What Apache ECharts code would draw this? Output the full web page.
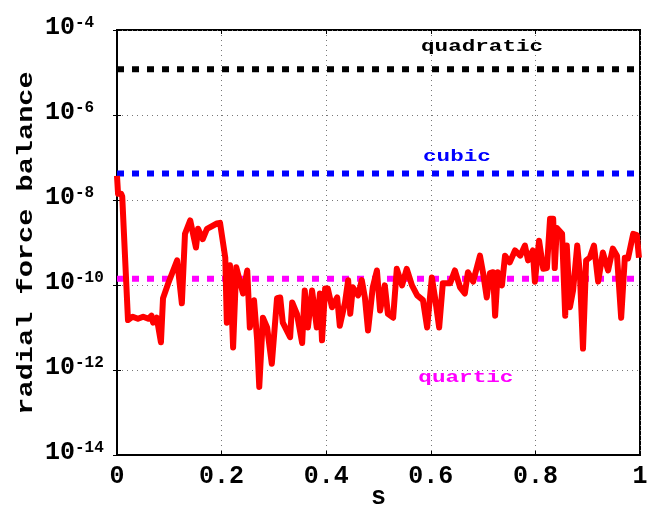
<!DOCTYPE html>
<html>
<head>
<meta charset="utf-8">
<script src="https://cdn.jsdelivr.net/npm/echarts@6/dist/echarts.min.js"></script>
<style>
  html, body { margin: 0; padding: 0; background: #fff; }
  #chart01 { width: 659px; height: 506px; }
</style>
</head>
<body>
<div id="chart01"></div>
<script>
// s along the profile
var sValues = [0.000, 0.002, 0.008, 0.010, 0.021, 0.030, 0.040, 0.050, 0.060, 0.066, 0.069, 0.076, 0.084, 0.088, 0.098,
  0.115, 0.117, 0.124, 0.130, 0.140, 0.151, 0.155, 0.164, 0.172, 0.191, 0.197, 0.207, 0.210, 0.216, 0.222,
  0.228, 0.241, 0.249, 0.254, 0.262, 0.268, 0.272, 0.279, 0.287, 0.296, 0.306, 0.312, 0.317, 0.331, 0.335,
  0.344, 0.354, 0.359, 0.365, 0.373, 0.382, 0.388, 0.392, 0.398, 0.403, 0.411, 0.421, 0.426, 0.436, 0.442,
  0.446, 0.451, 0.461, 0.468, 0.474, 0.480, 0.489, 0.497, 0.503, 0.512, 0.518, 0.528, 0.535, 0.545, 0.554,
  0.564, 0.574, 0.585, 0.593, 0.602, 0.608, 0.616, 0.623, 0.637, 0.646, 0.656, 0.665, 0.671, 0.681, 0.694,
  0.700, 0.707, 0.713, 0.719, 0.723, 0.728, 0.736, 0.742, 0.751, 0.761, 0.771, 0.780, 0.786, 0.795, 0.799,
  0.807, 0.815, 0.822, 0.828, 0.834, 0.837, 0.841, 0.851, 0.857, 0.860, 0.866, 0.872, 0.880, 0.885, 0.891,
  0.897, 0.904, 0.912, 0.920, 0.929, 0.939, 0.948, 0.956, 0.964, 0.971, 0.977, 0.987, 0.994, 0.998];

// radial force balance residual
var balanceValues = [3.7e-8, 1.4e-8, 1.4e-8, 1.2e-8, 1.5e-11, 1.8e-11, 1.6e-11, 1.8e-11, 1.6e-11, 1.9e-11, 1.3e-11, 1.7e-11, 4.5e-12, 4.9e-11, 1.1e-10,
  3.8e-10, 3.8e-10, 3.7e-11, 1.6e-9, 3.3e-9, 7.6e-10, 2.1e-9, 1.2e-9, 2.1e-9, 2.8e-9, 2.9e-9, 4.4e-10, 1.3e-11, 2.9e-10, 3.4e-12,
  2.6e-10, 6.3e-11, 2.2e-10, 1.0e-11, 4.4e-11, 5.0e-12, 4.0e-13, 1.7e-11, 1.0e-11, 1.4e-12, 4.9e-11, 5.1e-11, 1.3e-11, 5.9e-12, 3.9e-11,
  2.1e-11, 4.3e-12, 7.4e-11, 1.0e-11, 7.4e-11, 1.0e-11, 6.3e-11, 5.0e-12, 8.3e-11, 8.3e-11, 3.0e-11, 5.1e-11, 1.1e-11, 3.9e-11, 1.3e-10,
  2.1e-11, 8.8e-11, 5.7e-11, 1.3e-10, 5.1e-11, 8.5e-12, 8.8e-11, 2.2e-10, 2.5e-11, 9.8e-11, 2.1e-11, 1.7e-11, 2.4e-10, 9.8e-11, 2.4e-10,
  9.8e-11, 5.7e-11, 4.4e-11, 1.0e-11, 1.5e-10, 5.1e-11, 1.0e-11, 1.1e-10, 1.1e-10, 2.2e-10, 8.8e-11, 6.3e-11, 2.0e-10, 1.2e-10, 4.9e-10,
  1.9e-10, 5.1e-11, 1.9e-10, 2.0e-10, 1.9e-11, 2.0e-10, 9.8e-11, 4.9e-10, 3.4e-10, 6.5e-10, 4.9e-10, 8.5e-10, 3.8e-10, 6.5e-10, 1.2e-10,
  1.1e-9, 2.4e-10, 2.5e-10, 3.6e-9, 3.6e-9, 2.5e-10, 2.2e-9, 1.6e-9, 1.9e-11, 8.5e-10, 3.0e-11, 7.4e-11, 8.5e-10, 1.9e-10, 3.2e-12,
  3.8e-10, 4.4e-10, 8.5e-10, 1.2e-10, 5.8e-10, 2.2e-10, 7.2e-10, 4.9e-10, 1.7e-11, 4.4e-10, 4.2e-10, 1.6e-9, 1.5e-9, 4.4e-10];

// fit orders and their constant levels
var fitNames = ["quadratic", "cubic", "quartic"];
var fitLevels = [1.2e-5, 4.2e-8, 1.4e-10];
var fitColors = ["#000000", "#0000ff", "#ff00ff"];
// where the order names sit, in data units (s, value)
var labelAt = [[0.698, 4.0e-5], [0.650, 1.05e-7], [0.667, 6.7e-13]];

var monoFont = "Liberation Mono";

var lineData = sValues.map(function (s, i) { return [s, balanceValues[i]]; });

var series = [];
fitNames.forEach(function (name, i) {
    series.push({
        name: name,
        type: "line",
        symbol: "none",
        silent: true,
        data: [[0, fitLevels[i]], [1, fitLevels[i]]],
        lineStyle: { color: fitColors[i], width: 6, type: [7, 8], cap: "butt" },
        z: 2
    });
});
series.push({
    name: "balance",
    type: "line",
    symbol: "none",
    data: lineData,
    lineStyle: { color: "#ff0000", width: 6, join: "round" },
    z: 3
});

var myChart01 = echarts.init(document.getElementById("chart01"));
var option = {
    animation: false,
    backgroundColor: "#ffffff",
    grid: {
        left: 117, right: 19, top: 30, bottom: 51,
        containLabel: false,
        outerBoundsMode: "none",
        show: true, borderColor: "#000", borderWidth: 2, backgroundColor: "transparent"
    },
    xAxis: [{
        type: "value",
        min: 0, max: 1, interval: 0.2,
        name: "s",
        nameLocation: "middle",
        nameGap: 30,
        nameMoveOverlap: false,
        nameTextStyle: { fontFamily: monoFont, fontWeight: "bold", fontSize: 25, color: "#000" },
        axisLine: { show: true, onZero: false, lineStyle: { color: "#000", width: 2 } },
        axisTick: { show: true, inside: true, length: 4, lineStyle: { color: "#000" } },
        axisLabel: {
            margin: 9,
            fontFamily: monoFont, fontWeight: "bold", fontSize: 25, color: "#000",
            formatter: function (v) { return String(+v.toFixed(1)); }
        },
        splitLine: { show: true, lineStyle: { color: "#777", width: 1, type: [1, 4] } }
    }, {
        type: "value", position: "top",
        min: 0, max: 1, interval: 0.2,
        axisLine: { show: false },
        axisTick: { show: true, inside: true, length: 4, lineStyle: { color: "#000" } },
        axisLabel: { show: false },
        splitLine: { show: false }
    }],
    yAxis: [{
        type: "log",
        logBase: 10,
        min: 1e-14, max: 1e-4,
        interval: 2,
        axisLine: { show: true, lineStyle: { color: "#000", width: 2 } },
        axisTick: { show: true, inside: true, length: 4, lineStyle: { color: "#000" } },
        minorTick: { show: false },
        axisLabel: {
            align: "left",
            margin: 72,
            formatter: function (v) {
                var e = Math.round(Math.log10(v));
                return "{b|10}{e|" + e + "}";
            },
            rich: {
                b: { fontFamily: monoFont, fontWeight: "bold", fontSize: 25, color: "#000", verticalAlign: "top", padding: [0, 0, 5, 0] },
                e: { fontFamily: monoFont, fontWeight: "bold", fontSize: 16, color: "#000", verticalAlign: "top", padding: [0, 0, 14, 0] }
            }
        },
        splitLine: { show: true, lineStyle: { color: "#777", width: 1, type: [1, 4] } }
    }, {
        type: "log",
        logBase: 10,
        position: "right",
        min: 1e-14, max: 1e-4,
        interval: 2,
        axisLine: { show: false },
        axisTick: { show: true, inside: true, length: 4, lineStyle: { color: "#000" } },
        axisLabel: { show: false },
        splitLine: { show: false }
    }],
    series: series
};
myChart01.setOption(option);

// order names and the y title, stretched sideways like the plotted font
var graphics = [{
    type: "text",
    x: 26, y: 243,
    rotation: Math.PI / 2,
    scaleX: 1.3,
    style: {
        text: "radial force balance",
        font: "bold 22px " + monoFont,
        fill: "#000",
        align: "center",
        verticalAlign: "middle"
    }
}];
fitNames.forEach(function (name, i) {
    var p = myChart01.convertToPixel({ gridIndex: 0 }, labelAt[i]);
    graphics.push({
        type: "text",
        x: p[0], y: p[1],
        scaleX: 1.33,
        style: {
            text: name,
            font: "bold 17px " + monoFont,
            fill: fitColors[i],
            align: "center",
            verticalAlign: "middle"
        },
        z: 10
    });
});
myChart01.setOption({ graphic: graphics });
</script>
</body>
</html>
